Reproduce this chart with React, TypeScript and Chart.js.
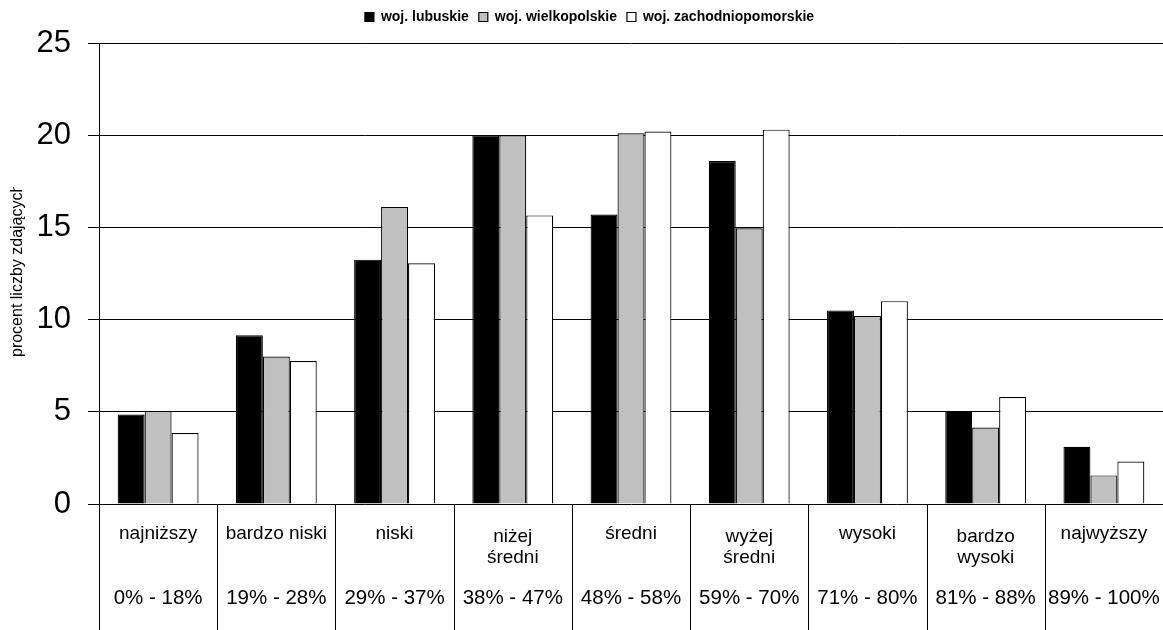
import React, { useEffect, useRef } from 'react';
import { Chart, registerables } from 'chart.js';

Chart.register(...registerables);

const categoryNames: string[][] = [
  ['najniższy'],
  ['bardzo niski'],
  ['niski'],
  ['niżej', 'średni'],
  ['średni'],
  ['wyżej', 'średni'],
  ['wysoki'],
  ['bardzo', 'wysoki'],
  ['najwyższy'],
];
const scoreRanges = [
  '0% - 18%',
  '19% - 28%',
  '29% - 37%',
  '38% - 47%',
  '48% - 58%',
  '59% - 70%',
  '71% - 80%',
  '81% - 88%',
  '89% - 100%',
];
const seriesNames = ['woj. lubuskie', 'woj. wielkopolskie', 'woj. zachodniopomorskie'];
const lubuskie = [4.85, 9.15, 13.25, 20.0, 15.7, 18.6, 10.5, 5.05, 3.1];
const wielkopolskie = [5.05, 8.0, 16.1, 20.0, 20.1, 14.95, 10.2, 4.15, 1.55];
const zachodniopomorskie = [3.85, 7.75, 13.05, 15.65, 20.2, 20.3, 11.0, 5.8, 2.3];
const yTicks = [0, 5, 10, 15, 20, 25];
const yAxisTitle = 'procent liczby zdających';

const FONT = '"Liberation Sans", Arial, Helvetica, sans-serif';

const categoryPanel = {
  id: 'categoryPanel',
  afterDraw(chart: any) {
    const { ctx, chartArea, scales } = chart;
    const xs = scales.x;
    const n = categoryNames.length;
    const w = (xs.right - xs.left) / n;
    const bottom = chart.height;
    ctx.save();
    ctx.strokeStyle = '#000';
    ctx.lineWidth = 1;
    // y axis line extended and category dividers
    for (let i = 0; i < n; i++) {
      const cx = xs.getPixelForValue(i);
      const left = Math.round(cx - w / 2) + 0.5;
      ctx.beginPath();
      ctx.moveTo(left, chartArea.bottom);
      ctx.lineTo(left, bottom);
      ctx.stroke();
    }
    ctx.fillStyle = '#000';
    ctx.textAlign = 'center';
    ctx.textBaseline = 'middle';
    for (let i = 0; i < n; i++) {
      const cx = xs.getPixelForValue(i);
      const lines = categoryNames[i];
      ctx.font = `19px ${FONT}`;
      if (lines.length === 1) {
        ctx.fillText(lines[0], cx, chartArea.bottom + 30);
      } else {
        lines.forEach((l, j) => ctx.fillText(l, cx, chartArea.bottom + 33 + j * 21));
      }
      ctx.font = `20.5px ${FONT}`;
      ctx.fillText(scoreRanges[i], cx, chartArea.bottom + 94);
    }
    // rotated y axis title, clipped like the original
    ctx.save();
    ctx.beginPath();
    ctx.rect(0, chartArea.top + 144, 45, bottom);
    ctx.clip();
    ctx.translate(18, 357);
    ctx.rotate(-Math.PI / 2);
    ctx.textAlign = 'left';
    ctx.font = `16px ${FONT}`;
    ctx.fillText(yAxisTitle, 0, 0);
    ctx.restore();
    ctx.restore();
  },
};

export default function App() {
  const ref = useRef<HTMLCanvasElement>(null);
  useEffect(() => {
    document.body.style.margin = '0';
    const chart = new Chart(ref.current as HTMLCanvasElement, {
      type: 'bar',
      data: {
        labels: categoryNames.map((l) => l.join(' ')),
        datasets: [
          { label: seriesNames[0], data: lubuskie, backgroundColor: '#000000', borderColor: '#000000', borderWidth: 1.2 },
          { label: seriesNames[1], data: wielkopolskie, backgroundColor: '#c0c0c0', borderColor: '#000000', borderWidth: 1.2 },
          { label: seriesNames[2], data: zachodniopomorskie, backgroundColor: '#ffffff', borderColor: '#000000', borderWidth: 1.2 },
        ],
      },
      options: {
        responsive: false,
        animation: false,
        layout: { padding: { top: 0, left: 16, right: 0, bottom: 118 } },
        datasets: { bar: { categoryPercentage: 0.684, barPercentage: 1 } },
        scales: {
          x: {
            grid: { display: false },
            ticks: { display: false },
            border: { display: false },
          },
          y: {
            min: 0,
            max: 25,
            afterFit: (s: any) => {
              s.width = 83;
            },
            afterBuildTicks: (s: any) => {
              s.ticks = yTicks.map((v) => ({ value: v }));
            },
            ticks: { font: { size: 31, family: FONT }, color: '#000', padding: 17 },
            grid: { color: '#000', lineWidth: 1, tickLength: 11, drawTicks: true },
            border: { color: '#000', width: 1 },
          },
        },
        plugins: {
          legend: {
            position: 'top',
            weight: 3000,
            labels: {
              font: { size: 14, weight: 'bold', family: FONT },
              color: '#000',
              boxWidth: 9,
              boxHeight: 9,
              padding: 10,
            },
          } as any,
          subtitle: { display: true, text: '', padding: 0, font: { size: 9, lineHeight: 1 } },
          tooltip: { enabled: false },
        },
      },
      plugins: [categoryPanel],
    });
    return () => chart.destroy();
  }, []);
  return <canvas ref={ref} width={1163} height={630} style={{ display: 'block' }} />;
}
